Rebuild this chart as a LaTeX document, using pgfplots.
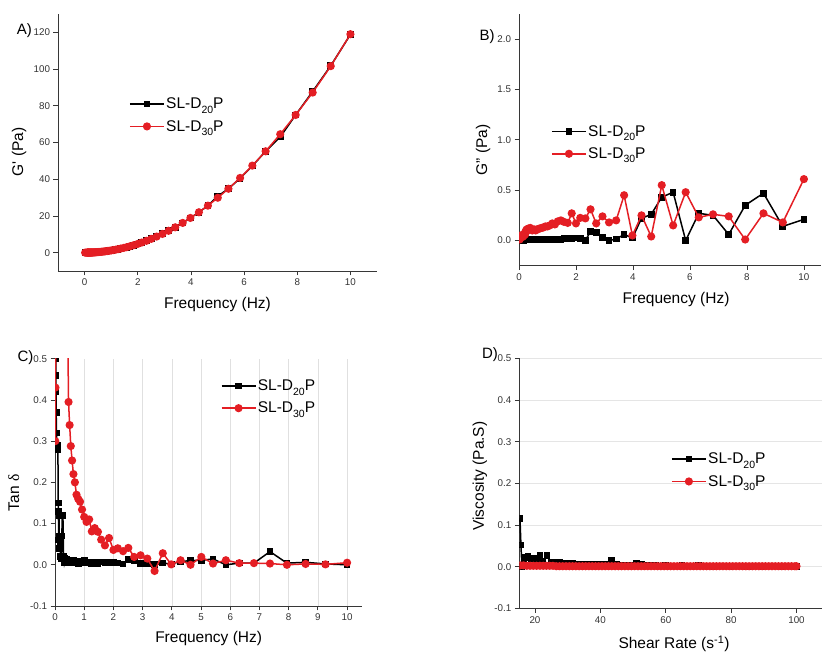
\documentclass[border=0pt]{standalone}
\usepackage{pgfplots}
\pgfplotsset{compat=1.18}
\usepackage{fontspec}
\setmainfont{Liberation Sans}
\newfontfamily\symfont{Liberation Serif}

\definecolor{sered}{RGB}{228,30,36}
\definecolor{axgray}{RGB}{55,55,55}

\pgfplotsset{
  panel/.style={
    scale only axis, anchor=south west,
    axis lines=left, axis line style={-, axgray, line width=0.8pt},
    tick align=outside, tick style={axgray, line width=0.8pt},
    major tick length=4.5pt,
    ticklabel style={font=\fontsize{9.8}{11}\selectfont, text=black!80},
    /pgf/number format/assume math mode=true,
    label style={font=\fontsize{15.5}{18}\selectfont},
    clip marker paths=true,
    legend style={draw=none, fill=none, font=\fontsize{15.5}{18}\selectfont,
      anchor=west, inner sep=0pt, row sep=7pt, nodes={inner sep=1.5pt}},
    legend cell align=left,
    legend image code/.code={\draw[mark repeat=2, mark phase=2, ##1]
      plot coordinates {(0pt,0pt) (17pt,0pt) (34pt,0pt)};},
  },
  onedec/.style={yticklabel style={/pgf/number format/.cd, fixed, fixed zerofill, precision=1}},
  s20/.style={black, line width=1.5pt, mark=square*, mark size=2.6pt, mark options={solid}},
  s30/.style={sered, line width=1.5pt, mark=*, mark size=3.3pt, mark options={solid}},
}

% sample names with a low-set subscript
\newcommand{\sub}[1]{\raisebox{-0.55ex}{\fontsize{10.5}{10.5}\selectfont #1}}
\newcommand{\lgA}{SL-D\sub{20}P}
\newcommand{\lgB}{SL-D\sub{30}P}

\begin{document}
\begin{tikzpicture}[x=1pt,y=1pt]
\path[use as bounding box] (0,0) rectangle (822,652);

% ---------- A) storage modulus ----------
\begin{axis}[panel, at={(58pt,381pt)}, width=319pt, height=257pt,
  xmin=-1, xmax=11, ymin=-10, ymax=130,
  xtick={0,2,...,10}, ytick={0,20,...,120},
  xlabel={Frequency (Hz)}, ylabel={G\textquotesingle{} (Pa)},
  xlabel style={at={(axis description cs:0.5,-0.132)}, anchor=center},
  ylabel style={at={(axis description cs:-0.122,0.463)}, anchor=center},
  legend style={at={(axis description cs:0.2226,0.606)}}]
\addplot[s20] coordinates {
(0.02,0.0005)(0.05,0.003)(0.1,0.012)(0.108,0.014)(0.117,0.016)(0.126,0.019)(0.136,0.022)
(0.147,0.026)(0.158,0.030)(0.171,0.035)(0.185,0.041)(0.2,0.048)(0.215,0.055)(0.233,0.065)
(0.251,0.075)(0.271,0.087)(0.293,0.102)(0.316,0.119)(0.341,0.138)(0.369,0.162)(0.398,0.189)
(0.43,0.22)(0.464,0.256)(0.501,0.299)(0.541,0.348)(0.585,0.407)(0.631,0.474)(0.681,0.552)
(0.736,0.645)(0.794,0.75)(0.858,0.876)(0.926,1.02)(1.0,1.19)(1.08,1.39)(1.17,1.63)(1.26,1.89)
(1.36,2.2)(1.47,2.57)(1.58,2.97)(1.71,3.48)(1.85,4.07)(2.0,4.76)(2.15,5.5)(2.33,6.46)
(2.51,7.6)(2.71,9.0)(2.93,10.3)(3.16,11.9)(3.41,13.8)(3.69,16.2)(3.98,18.9)(4.30,22.0)
(4.64,25.6)(5.01,30.8)(5.41,34.8)(5.85,40.5)(6.31,47.2)(6.81,55.2)(7.36,63.0)(7.94,75.0)
(8.58,87.8)(9.26,101.8)(10.0,118.8)};
\addlegendentry{\lgA}
\addplot[s30] coordinates {
(0.02,0.0005)(0.05,0.003)(0.1,0.012)(0.108,0.014)(0.117,0.016)(0.126,0.019)(0.136,0.022)
(0.147,0.026)(0.158,0.030)(0.171,0.035)(0.185,0.041)(0.2,0.048)(0.215,0.055)(0.233,0.065)
(0.251,0.075)(0.271,0.087)(0.293,0.102)(0.316,0.119)(0.341,0.138)(0.369,0.162)(0.398,0.189)
(0.43,0.22)(0.464,0.256)(0.501,0.299)(0.541,0.348)(0.585,0.407)(0.631,0.474)(0.681,0.552)
(0.736,0.645)(0.794,0.75)(0.858,0.876)(0.926,1.02)(1.0,1.19)(1.08,1.39)(1.17,1.63)(1.26,1.89)
(1.36,2.2)(1.47,2.57)(1.58,2.97)(1.71,3.48)(1.85,4.07)(2.0,4.76)(2.15,5.5)(2.33,6.46)
(2.51,7.5)(2.71,8.74)(2.93,10.2)(3.16,11.9)(3.41,13.8)(3.69,16.2)(3.98,18.9)(4.30,22.0)
(4.64,25.6)(5.01,29.9)(5.41,34.8)(5.85,40.7)(6.31,47.4)(6.81,55.2)(7.36,64.5)(7.94,75.0)
(8.58,87.2)(9.26,101.6)(10.0,119.0)};
\addlegendentry{\lgB}
\end{axis}

% ---------- B) loss modulus ----------
\begin{axis}[panel, onedec, at={(519pt,386.3pt)}, width=302pt, height=251.7pt,
  xmin=0, xmax=10.6, ymin=-0.25, ymax=2.25,
  xtick={0,2,...,10}, ytick={0,0.5,...,2.0},
  xlabel={Frequency (Hz)}, ylabel={G" (Pa)},
  xlabel style={at={(axis description cs:0.52,-0.136)}, anchor=center},
  ylabel style={at={(axis description cs:-0.119,0.46)}, anchor=center},
  legend style={at={(axis description cs:0.106,0.489)}}]
\addplot[s20] coordinates {
(0.05,0.000)(0.1,0.002)(0.108,0.003)(0.117,0.001)(0.126,0.002)(0.136,0.004)(0.147,0.003)
(0.158,0.004)(0.171,0.005)(0.185,0.004)(0.2,0.006)(0.215,0.004)(0.233,0.006)(0.251,0.007)
(0.271,0.005)(0.293,0.008)(0.316,0.007)(0.341,0.006)(0.369,0.009)(0.398,0.008)(0.43,0.006)
(0.464,0.009)(0.501,0.008)(0.541,0.010)(0.585,0.007)(0.631,0.009)(0.681,0.011)(0.736,0.008)
(0.794,0.010)(0.858,0.012)(0.926,0.009)(1.0,0.013)(1.08,0.010)(1.17,0.012)(1.26,0.009)
(1.36,0.011)(1.47,0.008)(1.58,0.018)(1.71,0.022)(1.85,0.020)(2.0,0.026)(2.15,0.018)
(2.33,0.000)(2.51,0.090)(2.71,0.080)(2.93,0.030)(3.16,0.000)(3.41,0.015)(3.69,0.060)
(3.98,0.025)(4.30,0.220)(4.64,0.260)(5.01,0.430)(5.41,0.480)(5.85,0.000)(6.31,0.270)
(6.81,0.250)(7.36,0.060)(7.94,0.350)(8.58,0.470)(9.26,0.140)(10.0,0.210)};
\addlegendentry{\lgA}
\addplot[s30] coordinates {
(0.02,0.010)(0.05,0.050)(0.1,0.040)(0.108,0.045)(0.117,0.035)(0.126,0.050)(0.136,0.040)
(0.147,0.055)(0.158,0.060)(0.171,0.050)(0.185,0.065)(0.2,0.070)(0.215,0.060)(0.233,0.090)
(0.251,0.100)(0.271,0.110)(0.293,0.100)(0.316,0.115)(0.341,0.120)(0.369,0.110)(0.398,0.125)
(0.43,0.115)(0.464,0.100)(0.501,0.105)(0.541,0.110)(0.585,0.100)(0.631,0.110)(0.681,0.115)
(0.736,0.120)(0.794,0.125)(0.858,0.130)(0.926,0.140)(1.0,0.140)(1.08,0.150)(1.17,0.170)
(1.26,0.160)(1.36,0.190)(1.47,0.200)(1.58,0.185)(1.71,0.175)(1.85,0.270)(2.0,0.170)
(2.15,0.225)(2.33,0.220)(2.51,0.310)(2.71,0.170)(2.93,0.240)(3.16,0.180)(3.41,0.200)
(3.69,0.450)(3.98,0.050)(4.30,0.250)(4.64,0.040)(5.01,0.550)(5.41,0.150)(5.85,0.480)
(6.31,0.230)(6.81,0.260)(7.36,0.240)(7.94,0.010)(8.58,0.270)(9.26,0.180)(10.0,0.610)};
\addlegendentry{\lgB}
\end{axis}

% ---------- C) loss tangent ----------
\begin{axis}[panel, onedec, at={(55pt,46pt)}, width=306.7pt, height=247.3pt,
  xmin=0, xmax=10.5, ymin=-0.1, ymax=0.5,
  xtick={0,1,...,10}, ytick={-0.1,0,0.1,0.2,0.3,0.4,0.5},
  xmajorgrids, grid style={black!12, line width=0.6pt},
  xlabel={Frequency (Hz)}, ylabel={Tan {\symfont δ}},
  xlabel style={at={(axis description cs:0.501,-0.133)}, anchor=center},
  ylabel style={at={(axis description cs:-0.134,0.458)}, anchor=center},
  legend style={at={(axis description cs:0.540,0.845)}}]
\addplot[s20] coordinates {
(0.02,0.52)(0.025,0.50)(0.03,0.46)(0.035,0.42)(0.04,0.37)(0.05,0.32)(0.06,0.29)(0.08,0.28)
(0.1,0.29)(0.108,0.15)(0.117,0.13)(0.126,0.06)(0.136,0.12)(0.147,0.04)(0.158,0.07)(0.171,0.05)
(0.185,0.02)(0.2,0.06)(0.215,0.015)(0.233,0.07)(0.251,0.12)(0.271,0.12)(0.293,0.02)(0.316,0.005)
(0.341,0.015)(0.369,0.008)(0.398,0.012)(0.43,0.006)(0.464,0.010)(0.501,0.004)(0.541,0.008)
(0.585,0.005)(0.631,0.010)(0.681,0.004)(0.736,0.007)(0.794,0.003)(0.858,0.009)(0.926,0.005)
(1.0,0.011)(1.08,0.004)(1.17,0.006)(1.26,0.002)(1.36,0.005)(1.47,0.003)(1.58,0.007)(1.71,0.006)
(1.85,0.005)(2.0,0.006)(2.15,0.004)(2.33,0.002)(2.51,0.012)(2.71,0.009)(2.93,0.003)(3.16,0.002)
(3.41,0.000)(3.69,0.004)(3.98,0.002)(4.30,0.008)(4.64,0.010)(5.01,0.011)(5.41,0.014)(5.85,0.000)
(6.31,0.004)(6.81,0.004)(7.36,0.032)(7.94,0.004)(8.58,0.006)(9.26,0.002)(10.0,0.000)};
\addlegendentry{\lgA}
\addplot[s30] coordinates {
(0.01,0.30)(0.015,0.43)(0.02,0.55)(0.03,0.70)(0.05,0.85)(0.1,0.95)(0.15,0.90)(0.2,0.85)
(0.25,0.80)(0.3,0.75)(0.35,0.70)(0.398,0.65)(0.43,0.60)(0.464,0.395)(0.501,0.339)(0.541,0.288)
(0.585,0.253)(0.631,0.220)(0.681,0.200)(0.736,0.170)(0.794,0.160)(0.858,0.153)(0.926,0.134)
(1.0,0.116)(1.08,0.104)(1.17,0.110)(1.26,0.081)(1.36,0.089)(1.47,0.080)(1.58,0.061)(1.71,0.047)
(1.85,0.065)(2.0,0.036)(2.15,0.040)(2.33,0.033)(2.51,0.041)(2.71,0.019)(2.93,0.023)(3.16,0.015)
(3.41,-0.015)(3.69,0.028)(3.98,0.001)(4.30,0.011)(4.64,0.000)(5.01,0.019)(5.41,0.003)
(5.85,0.011)(6.31,0.004)(6.81,0.004)(7.36,0.003)(7.94,0.000)(8.58,0.002)(9.26,0.001)(10.0,0.005)};
\addlegendentry{\lgB}
\end{axis}

% ---------- D) viscosity ----------
\begin{axis}[panel, onedec, at={(519.3pt,43.7pt)}, width=302.7pt, height=250pt,
  xmin=15.2, xmax=107.8, ymin=-0.1, ymax=0.5,
  xtick={20,40,...,100}, ytick={-0.1,0,0.1,0.2,0.3,0.4,0.5},
  ymajorgrids, grid style={black!10, line width=0.6pt},
  xlabel={Shear Rate (s\textsuperscript{-1})}, ylabel={Viscosity (Pa.S)},
  xlabel style={at={(axis description cs:0.511,-0.143)}, anchor=center},
  ylabel style={at={(axis description cs:-0.130,0.529)}, anchor=center},
  legend style={at={(axis description cs:0.501,0.552)}}]
\addplot[s20] coordinates {
(15.4,0.116)(15.7,0.052)(16.0,0.000)(16.6,0.008)(17.2,0.022)(17.9,0.024)(18.8,0.018)(19.8,0.020)
(20.6,0.016)(21.5,0.026)(22.4,0.013)(23.7,0.026)(24.9,0.011)(25.9,0.010)(27.4,0.010)(28.9,0.009)
(30.0,0.007)(31.5,0.007)(33.0,0.006)(34.5,0.006)(36.0,0.006)(37.5,0.005)(39.0,0.006)(40.5,0.005)
(42.0,0.005)(43.5,0.016)(45.0,0.005)(46.5,0.004)(48.0,0.004)(49.5,0.004)(51.0,0.007)(52.5,0.006)
(54.0,0.004)(55.5,0.004)(57.0,0.003)(60.0,0.002)(65.0,0.002)(70.0,0.002)(75.0,0.001)(80.0,0.001)
(85.0,0.001)(90.0,0.001)(95.0,0.001)(100.0,0.001)};
\addlegendentry{\lgA}
\addplot[s30] coordinates {
(15.5,0.003)(16.5,0.003)(17.5,0.002)(18.5,0.002)(19.5,0.002)(20.5,0.002)(21.5,0.002)(22.5,0.002)
(23.5,0.002)(24.5,0.002)(25.5,0.002)(26.5,0.001)(27.5,0.001)(28.5,0.001)(29.5,0.001)(30.5,0.001)
(31.5,0.001)(32.5,0.001)(33.5,0.001)(34.5,0.001)(35.5,0.001)(36.5,0.001)(37.5,0.001)(38.5,0.001)
(39.5,0.001)(40.5,0.001)(41.5,0.001)(42.5,0.001)(43.5,0.001)(44.5,0.001)(45.5,0.001)(46.5,0.001)
(47.5,0.001)(48.5,0.001)(49.5,0.001)(50.5,0.001)(51.5,0.001)(52.5,0.001)(53.5,0.001)(54.5,0.001)
(55.5,0.001)(56.5,0.001)(57.5,0.001)(58.5,0.001)(59.5,0.001)(60.5,0.001)(61.5,0.001)(62.5,0.001)
(63.5,0.001)(64.5,0.001)(65.5,0.001)(66.5,0.001)(67.5,0.001)(68.5,0.001)(69.5,0.001)(70.5,0.001)
(71.5,0.001)(72.5,0.001)(73.5,0.001)(74.5,0.001)(75.5,0.001)(76.5,0.001)(77.5,0.001)(78.5,0.001)
(79.5,0.001)(80.5,0.001)(81.5,0.001)(82.5,0.001)(83.5,0.001)(84.5,0.001)(85.5,0.001)(86.5,0.001)
(87.5,0.001)(88.5,0.001)(89.5,0.001)(90.5,0.001)(91.5,0.001)(92.5,0.001)(93.5,0.001)(94.5,0.001)
(95.5,0.001)(96.5,0.001)(97.5,0.001)(98.5,0.001)(99.5,0.001)(100.0,0.001)};
\addlegendentry{\lgB}
\end{axis}

% panel letters
\begin{scope}[every node/.style={font=\fontsize{15}{18}\selectfont, inner sep=0pt, anchor=center}]
\node at (24.3,621.3) {A)};
\node at (487,615.3) {B)};
\node at (25.5,294) {C)};
\node at (490,297) {D)};
\end{scope}
\end{tikzpicture}
\end{document}
